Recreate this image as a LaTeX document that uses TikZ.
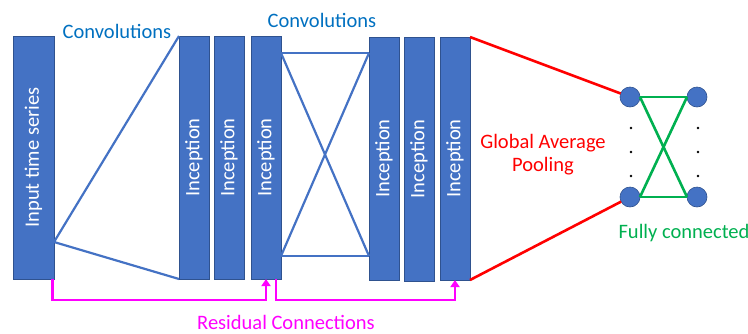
\documentclass[tikz,border=0pt]{standalone}
\usepackage{fontspec}
\setmainfont{Carlito}
\usetikzlibrary{calc,arrows.meta}
\definecolor{blk}{HTML}{4472C4}
\definecolor{blkb}{HTML}{2F528F}
\definecolor{convc}{HTML}{0070C0}
\definecolor{poolc}{HTML}{FF0000}
\definecolor{fcc}{HTML}{00B050}
\definecolor{resc}{HTML}{FF00FF}
\definecolor{convl}{HTML}{4472C4}
\tikzset{
  blkbox/.style={draw=blkb, fill=blk, line width=0.6pt, inner sep=0pt, outer sep=0pt,
    minimum height=243pt, text=white, font=\fontsize{20.5}{24}\selectfont},
  neuron/.style={circle, draw=blkb, fill=blk, line width=0.6pt, minimum size=20pt, inner sep=0pt, outer sep=0pt},
  convline/.style={draw=convl, line width=2.2pt},
  poolline/.style={draw=poolc, line width=2.6pt},
  fcline/.style={draw=fcc, line width=2.6pt},
  resline/.style={draw=resc, line width=2.6pt, -{Triangle[width=9pt,length=7pt]}},
  lbl/.style={font=\fontsize{20.5}{23}\selectfont, inner sep=0pt, align=center},
  dotmark/.style={fill=black}
}
\begin{document}
\begin{tikzpicture}[x=1pt,y=-1pt]
\useasboundingbox (0,0) rectangle (748,333);
% blocks
\node[blkbox, minimum width=41pt] (in) at (33.5,157.5) {\rotatebox{90}{Input time series}};
\node[blkbox, minimum width=30pt] (i1) at (194,157.5) {\rotatebox{90}{Inception}};
\node[blkbox, minimum width=30pt] (i2) at (229,157.5) {\rotatebox{90}{Inception}};
\node[blkbox, minimum width=30pt] (i3) at (266,157.5) {\rotatebox{90}{Inception}};
\node[blkbox, minimum width=30pt] (i4) at (384,158.5) {\rotatebox{90}{Inception}};
\node[blkbox, minimum width=30pt, minimum height=244pt] (i5) at (419,159) {\rotatebox{90}{Inception}};
\node[blkbox, minimum width=30pt] (i6) at (455,158.5) {\rotatebox{90}{Inception}};
% neurons
\node[neuron] (c1) at (630,97) {};
\node[neuron] (c2) at (697,97) {};
\node[neuron] (c3) at (630,197) {};
\node[neuron] (c4) at (697,197) {};
% convolution lines
\coordinate (cv) at ($(in.south east)+(0,-37)$);
\draw[convline] (i1.north west) -- (cv) -- (i1.south west);
\coordinate (a1) at ($(i3.north east)+(0,17)$);
\coordinate (a2) at ($(i3.south east)+(0,-23)$);
\coordinate (b1) at ($(i4.north west)+(0,16)$);
\coordinate (b2) at ($(i4.south west)+(0,-24)$);
\draw[convline] (a1) -- (b1);
\draw[convline] (a2) -- (b2);
\draw[convline] (a1) -- (b2);
\draw[convline] (a2) -- (b1);
% pooling
\draw[poolline] (i6.north east) -- (c1);
\draw[poolline] (i6.south east) -- (c3);
% fully connected
\draw[fcline] (c1.east) -- (c2.west);
\draw[fcline] (c3.east) -- (c4.west);
\draw[fcline] (c1.east) -- (c4.west);
\draw[fcline] (c3.east) -- (c2.west);
% dots
\foreach \yy in {128,152,176}{
  \fill[dotmark] (631,\yy) circle (1.3pt);
  \fill[dotmark] (698,\yy) circle (1.3pt);
}
% residual
\coordinate (r1) at ($(in.south east)+(-1.5,0)$);
\coordinate (r2) at ($(i3.south)+(10,0)$);
\draw[resline] (r1) -- ++(0,21) -| (i3.south);
\draw[resline] (r2) -- ++(0,21) -| (i6.south);
% labels
\node[lbl, text=convc] (t1) at (117,31) {Convolutions};
\node[lbl, text=convc] (t2) at (322,20) {Convolutions};
\node[lbl, text=poolc] (t3) at (543,155) {Global Average\\Pooling};
\node[lbl, text=fcc] (t4) at (684,233) {Fully connected};
\node[lbl, text=resc] (t5) at (286,322) {Residual Connections};
\end{tikzpicture}
\end{document}
